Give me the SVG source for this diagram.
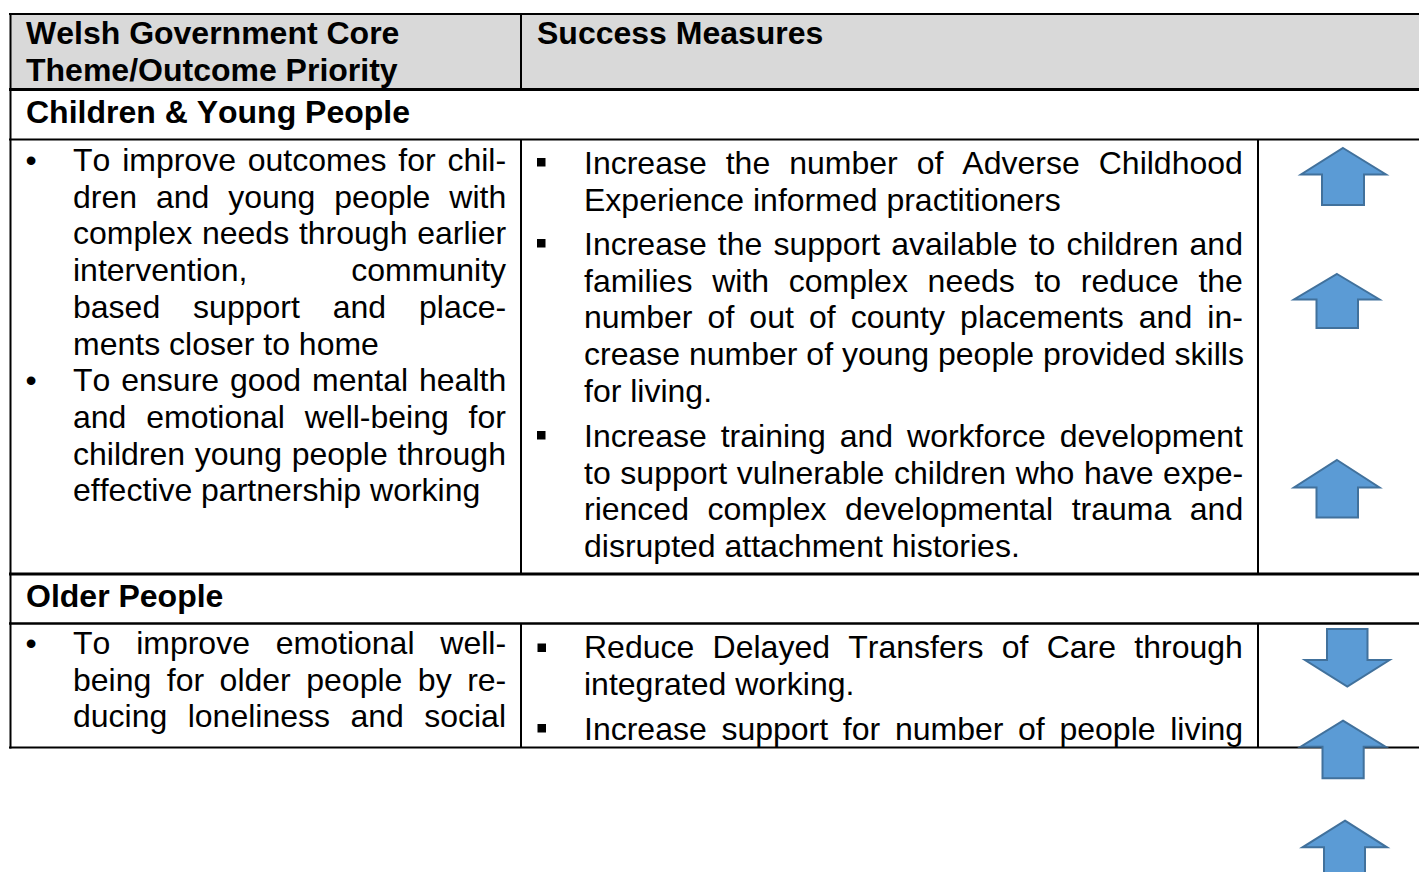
<svg xmlns="http://www.w3.org/2000/svg" width="1419" height="872" viewBox="0 0 1419 872">
<style>
text{font-family:"Liberation Sans",Arial,sans-serif;font-size:32px;fill:#000;font-kerning:none}
.b{font-weight:bold}
.ln{stroke:#000;fill:none}
.arr{fill:#5B9BD5;stroke:#41719C;stroke-width:2;stroke-linejoin:miter}
.sq{fill:#000}
</style>
<rect width="1419" height="872" fill="#fff"/>
<g id="header">
<rect x="10" y="15" width="1409" height="73" fill="#D9D9D9"/>
<text class="b" x="26" y="44">Welsh Government Core</text>
<text class="b" x="26" y="80.5">Theme/Outcome Priority</text>
<text class="b" x="537" y="44">Success Measures</text>
</g>
<g id="grid">
<line class="ln" x1="9" y1="14" x2="1419" y2="14" stroke-width="2"/>
<line class="ln" x1="10.5" y1="13" x2="10.5" y2="748.5" stroke-width="2"/>
<line class="ln" x1="9" y1="89.5" x2="1419" y2="89.5" stroke-width="3"/>
<line class="ln" x1="521" y1="14" x2="521" y2="88" stroke-width="2"/>
<line class="ln" x1="9" y1="139.5" x2="1419" y2="139.5" stroke-width="2"/>
<line class="ln" x1="521" y1="139.5" x2="521" y2="574" stroke-width="2"/>
<line class="ln" x1="1258" y1="139.5" x2="1258" y2="574" stroke-width="2"/>
<line class="ln" x1="9" y1="574" x2="1419" y2="574" stroke-width="3"/>
<line class="ln" x1="9" y1="623.5" x2="1419" y2="623.5" stroke-width="2.5"/>
<line class="ln" x1="521" y1="623.5" x2="521" y2="747.5" stroke-width="2"/>
<line class="ln" x1="1258" y1="623.5" x2="1258" y2="747.5" stroke-width="2"/>
<line class="ln" x1="9" y1="747.5" x2="1419" y2="747.5" stroke-width="2"/>
</g>
<g id="section-children">
<text class="b" x="26" y="122.5">Children &amp; Young People</text>
</g>
<g id="children-priorities">
<text x="25.5" y="171">•</text>
<text x="73" y="171" word-spacing="2.9">To improve outcomes for chil-</text>
<text x="73" y="207.7" word-spacing="10">dren and young people with</text>
<text x="73" y="244.4" word-spacing="0.9">complex needs through earlier</text>
<text x="73" y="281.1" word-spacing="95.1">intervention, community</text>
<text x="73" y="317.8" word-spacing="24">based support and place-</text>
<text x="73" y="354.5">ments closer to home</text>
<text x="25.5" y="391.2">•</text>
<text x="73" y="391.2" word-spacing="2">To ensure good mental health</text>
<text x="73" y="427.9" word-spacing="10.9">and emotional well-being for</text>
<text x="73" y="464.6" word-spacing="0.8">children young people through</text>
<text x="73" y="501.3">effective partnership working</text>
</g>
<g id="children-measures">
<rect class="sq" x="537" y="158" width="8.5" height="8.5"/>
<text x="584" y="174" word-spacing="10.1">Increase the number of Adverse Childhood</text>
<text x="584" y="210.7">Experience informed practitioners</text>
<rect class="sq" x="537" y="239" width="8.5" height="8.5"/>
<text x="584" y="255" word-spacing="2.2">Increase the support available to children and</text>
<text x="584" y="291.7" word-spacing="10.8">families with complex needs to reduce the</text>
<text x="584" y="328.4" word-spacing="6.2">number of out of county placements and in-</text>
<text x="584" y="365.1">crease number of young people provided skills</text>
<text x="584" y="401.8">for living.</text>
<rect class="sq" x="537" y="431" width="8.5" height="8.5"/>
<text x="584" y="447" word-spacing="5.1">Increase training and workforce development</text>
<text x="584" y="483.7" word-spacing="0.75">to support vulnerable children who have expe-</text>
<text x="584" y="520.4" word-spacing="9.6">rienced complex developmental trauma and</text>
<text x="584" y="557.1">disrupted attachment histories.</text>
</g>
<g id="children-trends">
<path class="arr" d="M1343,148 L1386,174.5 L1364,174.5 L1364,205 L1322,205 L1322,174.5 L1301,174.5 Z"/>
<path class="arr" d="M1337,274 L1379.5,299.5 L1358,299.5 L1358,328 L1316.5,328 L1316.5,299.5 L1294,299.5 Z"/>
<path class="arr" d="M1337,460 L1379.5,487.5 L1358,487.5 L1358,517.5 L1316.5,517.5 L1316.5,487.5 L1294,487.5 Z"/>
</g>
<g id="section-older">
<text class="b" x="26" y="607">Older People</text>
</g>
<g id="older-priorities">
<text x="25.5" y="654">•</text>
<text x="73" y="654" word-spacing="16.9">To improve emotional well-</text>
<text x="73" y="690.7" word-spacing="6.6">being for older people by re-</text>
<text x="73" y="727.4" word-spacing="11.5">ducing loneliness and social</text>
</g>
<g id="older-measures">
<rect class="sq" x="537.5" y="643.5" width="8.5" height="8.5"/>
<text x="584" y="658" word-spacing="9.4">Reduce Delayed Transfers of Care through</text>
<text x="584" y="694.7">integrated working.</text>
<rect class="sq" x="537.5" y="724" width="8.5" height="8.5"/>
<text x="584" y="739.5" word-spacing="5.8">Increase support for number of people living</text>
</g>
<g id="older-trends">
<path class="arr" d="M1327,629 L1367.5,629 L1367.5,660 L1389.5,660 L1347.3,686.5 L1305,660 L1327,660 Z"/>
<path class="arr" d="M1343,720.7 L1385.5,746.7 L1363.7,746.7 L1363.7,778.3 L1322.5,778.3 L1322.5,746.7 L1300.7,746.7 Z"/>
<path class="arr" d="M1345,820.7 L1387,847.3 L1365,847.3 L1365,880 L1324,880 L1324,847.3 L1302.5,847.3 Z"/>
</g>
</svg>
